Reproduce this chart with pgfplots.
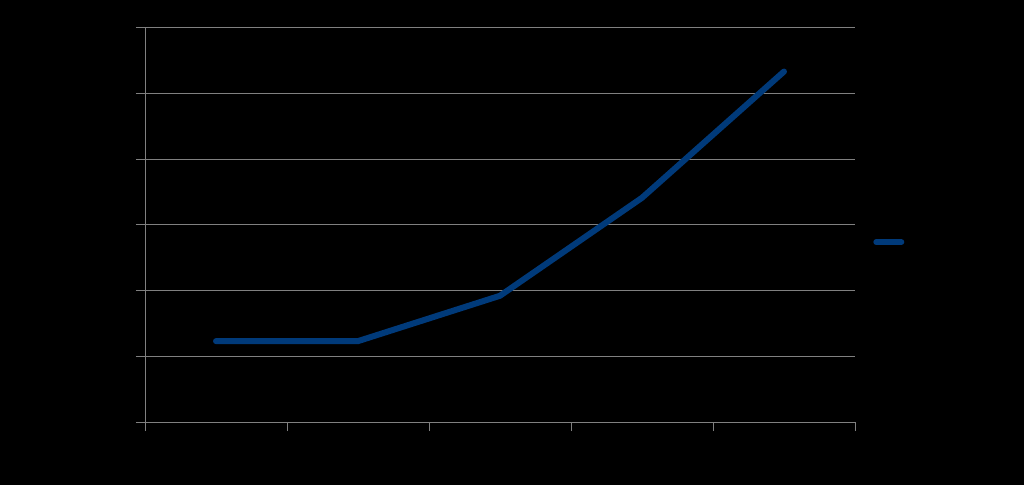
\documentclass[border=0pt]{standalone}
\usepackage{pgfplots}
\pgfplotsset{compat=1.18}
\definecolor{lineblue}{RGB}{0,58,122}
\definecolor{gridgray}{RGB}{128,128,128}
\begin{document}
\begin{tikzpicture}
\fill[black] (-145bp,-63bp) rectangle (879bp,422bp);
\begin{axis}[
  at={(0,0)}, anchor=south west,
  scale only axis, width=710bp, height=394.5bp,
  xmin=-0.5, xmax=4.5, ymin=0, ymax=6,
  xtick={-0.5,0.5,1.5,2.5,3.5,4.5}, xticklabels={},
  ytick={0,1,2,3,4,5,6},
  yticklabel style={text=black},
  ymajorgrids, grid style={gridgray, line width=0.8bp},
  axis line style={gridgray, line width=0.8bp},
  axis x line*=bottom, axis y line*=left,
  tick style={gridgray, line width=0.8bp},
  major tick length=9bp, tick align=outside,
  legend style={at={(1.0255,0.456)}, anchor=west, draw=none, fill=none, inner sep=0pt, text=black},
  legend image code/.code={\draw[#1, line cap=round] (0bp,0bp) -- (25bp,0bp);},
]
\addplot[lineblue, line width=6bp, line join=round, line cap=round] coordinates {
(0,1.23) (1,1.23) (2,1.92) (3,3.41) (4,5.33)};
\addlegendentry{Series 1}
\end{axis}
\end{tikzpicture}
\end{document}
